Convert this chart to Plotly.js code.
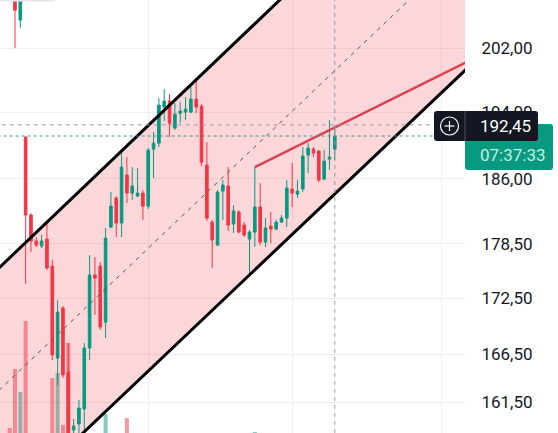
<!DOCTYPE html>
<html><head><meta charset="utf-8">
<script src="https://cdn.plot.ly/plotly-3.0.1.min.js"></script>
<style>html,body{margin:0;padding:0;background:#fff;overflow:hidden}#chart{width:558px;height:433px}</style>
</head><body><div id="chart"></div>
<script>
// ---- data ----
const idx = [-1,0,1,2,3,4,5,6,7,8,9,10,11,12,13,14,15,16,17,18,19,20,21,22,23,24,25,26,27,28,29,30,31,32,33,34,35,36,37,38,39,40,41,42,43,44,45,46,47,48,49,50,51,52,53,54,55,56,57,58,59,60];
const openP  = [211.50,209.28,205.62,190.97,181.79,178.83,178.26,179.05,176.02,166.08,171.41,164.62,158.70,159.30,160.82,167.14,175.03,176.02,169.90,180.41,183.75,180.87,186.44,184.33,183.98,184.33,182.82,189.52,190.24,194.62,195.36,192.06,193.88,194.01,194.01,195.61,194.74,187.62,180.98,178.37,184.56,185.15,180.76,182.13,180.64,179.05,179.84,182.71,178.71,180.53,180.18,180.98,181.44,184.80,184.21,184.80,188.81,189.52,189.29,185.97,188.33,189.52];
const highP  = [213.00,210.21,209.82,191.05,182.02,179.28,179.50,180.87,176.69,172.28,171.63,167.67,159.81,161.74,167.67,177.25,177.03,176.47,180.30,184.45,183.98,189.40,188.57,187.38,187.26,184.68,189.65,191.57,195.73,196.85,196.23,195.11,195.24,195.85,197.10,198.22,194.99,190.37,181.21,184.68,185.85,187.38,182.94,182.36,180.98,180.07,187.38,185.50,181.44,182.13,181.21,181.79,185.85,187.86,185.85,189.77,190.24,189.77,189.40,189.40,193.03,191.94];
const lowP   = [209.20,202.01,204.58,174.03,177.59,178.15,178.04,175.58,165.87,163.28,164.00,157.20,158.10,158.40,158.70,165.87,170.66,169.05,168.20,180.30,179.28,179.28,183.17,183.52,183.86,181.21,182.48,186.08,189.77,192.91,190.97,191.82,192.66,193.03,193.88,193.88,187.50,181.10,175.80,178.26,181.21,179.96,179.73,179.73,179.28,175.25,178.15,178.37,178.15,178.60,180.07,180.87,180.41,182.71,183.75,184.45,186.67,188.57,185.62,185.85,187.03,188.21];
const closeP = [210.40,206.92,208.89,181.79,178.83,178.37,178.83,175.80,166.40,170.98,164.31,157.70,159.10,160.92,167.14,175.03,174.69,169.37,179.16,182.82,180.87,187.38,184.33,185.15,184.33,182.82,189.40,190.24,194.87,195.36,192.66,193.76,194.13,194.38,195.61,194.62,187.97,181.44,178.94,184.45,185.26,180.64,182.25,179.84,179.50,179.84,182.71,178.71,180.30,180.18,180.98,181.44,184.91,184.33,184.56,188.69,189.65,189.05,185.85,188.09,188.57,191.10];
const volume = [11.0,22.8,18.2,32.4,9.0,7.0,6.0,9.0,21.0,22.0,11.6,28.0,9.0,8.0,9.0,9.0,7.0,8.0,13.8,8.0,7.0,9.0,13.0,8.0,7.0,8.0,9.0,8.0,9.0,8.0,8.0,7.0,6.0,6.0,7.0,8.0,9.0,9.0,9.0,8.0,7.0,8.0,7.0,7.0,6.0,8.0,10.2,8.0,7.0,7.0,6.0,6.0,8.0,8.0,6.0,8.0,7.0,6.0,7.0,7.0,8.0,7.0];

const yTickVals = [161.5,166.5,172.5,178.5,186,194,202];
const yTickText = ['161,50','166,50','172,50','178,50','186,00','194,00','202,00'];
const gridIdx = [25,52,80];

const channelX     = [-14, 98];
const channelUpper = [169.70, 243.26];
const channelLower = [145.41, 208.03];
const channelMid   = [157.09, 224.96];
const trendX = [45, 98];
const trendY = [187.38, 204.74];

const crossIdx = 60;
const crossPrice = 192.45;
const crossLabel = '192,45';
const lastPrice = 191.10;
const countdown = '07:37:33';

const priceRange = [158.40, 208.25];
const idxRange = [-2.81, 84.43];
const volRange = [10, 96.6];

// ---- colours ----
const UP = '#089981', DOWN = '#f23645';

const volColors = idx.map((_, i) => closeP[i] >= openP[i] ? 'rgba(8,153,129,0.5)' : 'rgba(242,54,69,0.5)');

const traces = [
  {type:'bar', x:idx, y:volume, marker:{color:volColors, line:{width:0}}, width:0.75, xaxis:'x', yaxis:'y', hoverinfo:'skip'},
  {type:'scatter', mode:'lines', x:channelX, y:channelLower, line:{width:0, color:'rgba(0,0,0,0)'}, xaxis:'x', yaxis:'y2', hoverinfo:'skip'},
  {type:'scatter', mode:'lines', x:channelX, y:channelUpper, line:{width:0, color:'rgba(0,0,0,0)'}, fill:'tonexty', fillcolor:'rgba(242,54,69,0.2)', xaxis:'x', yaxis:'y2', hoverinfo:'skip'},
  {type:'candlestick', x:idx, open:openP, high:highP, low:lowP, close:closeP, xaxis:'x', yaxis:'y3',
   increasing:{line:{color:UP, width:1}, fillcolor:UP}, decreasing:{line:{color:DOWN, width:1}, fillcolor:DOWN}, whiskerwidth:0, hoverinfo:'skip'},
  {type:'scatter', mode:'lines', x:channelX, y:channelMid, line:{color:'#555', width:1, dash:'4px,5px'}, xaxis:'x', yaxis:'y3', hoverinfo:'skip'},
  {type:'scatter', mode:'lines', x:channelX, y:channelUpper, line:{color:'#000', width:3}, xaxis:'x', yaxis:'y3', hoverinfo:'skip'},
  {type:'scatter', mode:'lines', x:channelX, y:channelLower, line:{color:'#000', width:3}, xaxis:'x', yaxis:'y3', hoverinfo:'skip'},
  {type:'scatter', mode:'lines', x:trendX, y:trendY, line:{color:'#dc4352', width:2.5}, xaxis:'x', yaxis:'y3', hoverinfo:'skip'},
  {type:'scatter', mode:'lines', x:[-10,100], y:[lastPrice,lastPrice], line:{color:'#3f8f9a', width:1, dash:'dot'}, xaxis:'x', yaxis:'y3', hoverinfo:'skip'},
  {type:'scatter', mode:'lines', x:[-10,100], y:[crossPrice,crossPrice], line:{color:'#9598a1', width:1, dash:'4px,4px'}, xaxis:'x', yaxis:'y3', hoverinfo:'skip'},
  {type:'scatter', mode:'lines', x:[crossIdx,crossIdx], y:[100,300], line:{color:'#9598a1', width:1, dash:'4px,4px'}, xaxis:'x', yaxis:'y3', hoverinfo:'skip'}
];

const W = 465, H = 433;
const px = v => v / W, py = v => 1 - v / H;
function roundRect(x0, y0, x1, y1, r) {
  const X = v => px(v).toFixed(5), Y = v => py(v).toFixed(5);
  return 'M' + X(x0 + r) + ',' + Y(y0) + ' L' + X(x1 - r) + ',' + Y(y0) +
    ' Q' + X(x1) + ',' + Y(y0) + ' ' + X(x1) + ',' + Y(y0 + r) +
    ' L' + X(x1) + ',' + Y(y1 - r) + ' Q' + X(x1) + ',' + Y(y1) + ' ' + X(x1 - r) + ',' + Y(y1) +
    ' L' + X(x0 + r) + ',' + Y(y1) + ' Q' + X(x0) + ',' + Y(y1) + ' ' + X(x0) + ',' + Y(y1 - r) +
    ' L' + X(x0) + ',' + Y(y0 + r) + ' Q' + X(x0) + ',' + Y(y0) + ' ' + X(x0 + r) + ',' + Y(y0) + ' Z';
}

const shapes = [
  {type:'rect', xref:'paper', yref:'paper', x0:0, x1:px(55), y0:py(1.5), y1:py(-5), fillcolor:'#e6e6e6', line:{width:0}, layer:'above'},
  {type:'path', xref:'paper', yref:'paper', path:roundRect(465, 124, 553, 170, 3), fillcolor:UP, line:{width:0}, layer:'above'},
  {type:'path', xref:'paper', yref:'paper', path:roundRect(434, 111, 538, 141, 3), fillcolor:'#131722', line:{width:0}, layer:'above'},
  {type:'line', xref:'paper', yref:'paper', x0:px(465), x1:px(465), y0:py(141), y1:py(111), line:{color:'#50535e', width:1}, layer:'above'},
  {type:'circle', xref:'paper', yref:'paper', x0:px(440.5), x1:px(458.5), y0:py(135), y1:py(117), line:{color:'#ffffff', width:1.2}, layer:'above'},
  {type:'line', xref:'paper', yref:'paper', x0:px(444.5), x1:px(454.5), y0:py(126), y1:py(126), line:{color:'#ffffff', width:1.2}, layer:'above'},
  {type:'line', xref:'paper', yref:'paper', x0:px(449.5), x1:px(449.5), y0:py(121), y1:py(131), line:{color:'#ffffff', width:1.2}, layer:'above'}
];

const annotations = [
  {xref:'paper', yref:'paper', x:px(478), y:py(126), xanchor:'left', yanchor:'middle', text:crossLabel, showarrow:false, font:{family:'Roboto', size:17, color:'#ffffff'}},
  {xref:'paper', yref:'paper', x:px(478), y:py(155), xanchor:'left', yanchor:'middle', text:countdown, showarrow:false, font:{family:'Roboto', size:17, color:'#c4eee2'}}
];

const layout = {
  width:558, height:433, margin:{l:0, r:93, t:0, b:0},
  paper_bgcolor:'#ffffff', plot_bgcolor:'#ffffff', showlegend:false,
  font:{family:'Roboto', size:17, color:'#131722'},
  xaxis:{range:idxRange, tickvals:gridIdx, showticklabels:false, showgrid:true, gridcolor:'#efefef', gridwidth:1, zeroline:false, showline:false, ticks:'', rangeslider:{visible:false}, fixedrange:true},
  yaxis:{range:volRange, showgrid:false, showticklabels:false, zeroline:false, showline:false, fixedrange:true},
  yaxis2:{type:'log', overlaying:'y', side:'right', range:[Math.log10(priceRange[0]), Math.log10(priceRange[1])],
          tickmode:'array', tickvals:yTickVals, ticktext:yTickText, showgrid:true, gridcolor:'#efefef', gridwidth:1,
          ticks:'outside', ticklen:12, tickcolor:'rgba(0,0,0,0)', zeroline:false, showline:false,
          tickfont:{family:'Roboto', size:17, color:'#131722'}, fixedrange:true},
  yaxis3:{type:'log', overlaying:'y', side:'right', range:[Math.log10(priceRange[0]), Math.log10(priceRange[1])],
          visible:false, showgrid:false, fixedrange:true},
  shapes:shapes, annotations:annotations
};

Plotly.newPlot('chart', traces, layout, {staticPlot:true, displayModeBar:false});
</script></body></html>
